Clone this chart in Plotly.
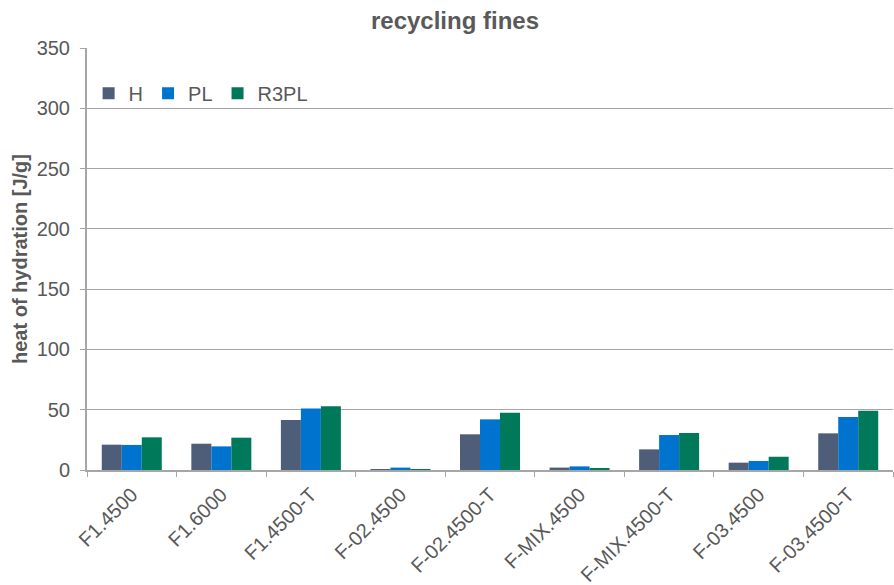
import plotly.graph_objects as go

categories = ["F1.4500", "F1.6000", "F1.4500-T", "F-02.4500", "F-02.4500-T",
              "F-MIX.4500", "F-MIX.4500-T", "F-03.4500", "F-03.4500-T"]
H = [21.0, 21.8, 41.5, 0.6, 29.6, 2.0, 17.1, 6.1, 30.4]
PL = [20.8, 19.6, 51.1, 2.0, 42.0, 3.0, 29.0, 7.5, 43.9]
R3PL = [27.1, 26.8, 52.8, 0.5, 47.5, 1.4, 30.7, 11.0, 49.2]
y_ticks = [0, 50, 100, 150, 200, 250, 300, 350]

colors = {"H": "#4e5d78", "PL": "#0073cf", "R3PL": "#00785a"}
FONT = "Liberation Sans, Arial, sans-serif"
GRAY = "#595959"
LINE = "#a6a6a6"

fig = go.Figure()
for name, vals in [("H", H), ("PL", PL), ("R3PL", R3PL)]:
    fig.add_trace(go.Bar(name=name, x=categories, y=vals,
                         marker=dict(color=colors[name], line=dict(width=0))))

fig.update_layout(
    width=894, height=585,
    paper_bgcolor="white", plot_bgcolor="white",
    margin=dict(l=87, r=1, t=48, b=115, autoexpand=False),
    barmode="group", bargap=0.33, bargroupgap=0,
    title=dict(text="<b>recycling fines</b>", x=455/894, xanchor="center",
               y=1 - 21/585, yanchor="middle", automargin=False,
               font=dict(family=FONT, size=24, color=GRAY)),
    font=dict(family=FONT, size=20, color=GRAY),
    legend=dict(orientation="h", x=0.002, xanchor="left", y=0.893, yanchor="middle",
                bgcolor="rgba(0,0,0,0)", font=dict(family=FONT, size=20, color=GRAY),
                itemwidth=30),
    showlegend=True,
)
fig.update_xaxes(
    type="category", tickson="boundaries", ticks="outside", ticklen=5,
    tickcolor=LINE, tickangle=-45, showline=True, linecolor=LINE,
    linewidth=2, showgrid=False, automargin=False, ticklabelstandoff=3,
    tickfont=dict(family=FONT, size=20, color=GRAY),
)
fig.update_yaxes(
    range=[0, 350], tickvals=y_ticks, ticks="outside", ticklen=5,
    tickcolor=LINE, showline=True, linecolor=LINE, linewidth=2,
    showgrid=True, gridcolor=LINE, gridwidth=1, zeroline=False,
    automargin=False, ticklabelstandoff=6,
    tickfont=dict(family=FONT, size=20, color=GRAY),
    title=dict(text="<b>heat of hydration [J/g]</b>", standoff=4,
               font=dict(family=FONT, size=20, color=GRAY)),
)

fig.write_html(
    "out.html",
    config={"displayModeBar": False},
    post_script="document.body.style.margin='0';document.body.style.overflow='hidden';"
                "Plotly.Plots.resize(document.getElementById('{plot_id}'));",
)
